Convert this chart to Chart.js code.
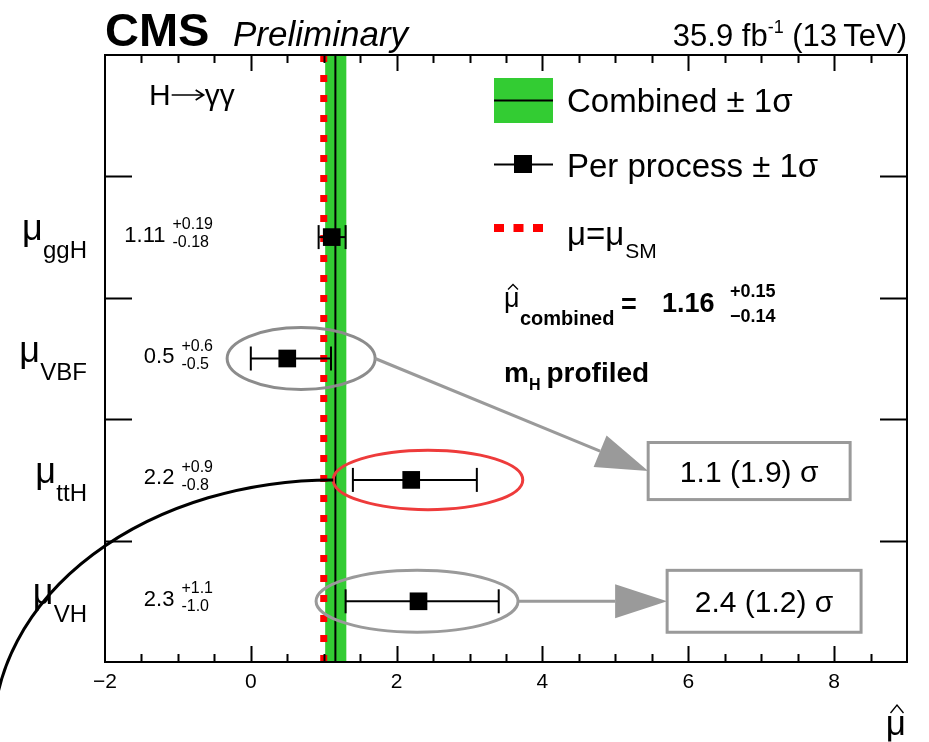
<!DOCTYPE html>
<html>
<head>
<meta charset="utf-8">
<script src="https://cdn.jsdelivr.net/npm/chart.js@4.4.1/dist/chart.umd.min.js"></script>
<style>
  html, body { margin: 0; padding: 0; background: #fff; }
  canvas { display: block; }
</style>
</head>
<body>
<canvas id="chart" width="929" height="742"></canvas>
<script>
// Signal strength per production process, H -> gamma gamma
const processes = ['ggH', 'VBF', 'ttH', 'VH'];
const rowPositions = [3.5, 2.5, 1.5, 0.5];
const muValues = [1.11, 0.5, 2.2, 2.3];
const errUp = [0.19, 0.6, 0.9, 1.1];
const errDown = [0.18, 0.5, 0.8, 1.0];

// Combined fit and SM expectation
const combinedMu = [1.16];
const combinedUp = [0.15];
const combinedDown = [0.14];
const smMu = [1.0];

// Axis labels
const xTickLabels = [-2, 0, 2, 4, 6, 8];

// Significance call-outs: observed (expected)
const significanceLabels = ['1.1 (1.9) σ', '2.4 (1.2) σ'];

const FAMILY = '"Liberation Sans", Arial, Helvetica, sans-serif';
const f = (size, weight = 'normal', style = 'normal') => `${style} ${weight} ${size}px ${FAMILY}`;

function text(ctx, s, x, y, font, align = 'left', color = '#000') {
  ctx.font = font;
  ctx.fillStyle = color;
  ctx.textAlign = align;
  ctx.textBaseline = 'alphabetic';
  ctx.fillText(s, x, y);
  return ctx.measureText(s).width;
}
function width(ctx, s, font) { ctx.font = font; return ctx.measureText(s).width; }
function fmt(v) { return v.toFixed(Math.round(v * 100) % 10 ? 2 : 1); }
function hat(ctx, cx, cy, w, h) {
  ctx.save();
  ctx.strokeStyle = '#000';
  ctx.lineWidth = 1.3;
  ctx.beginPath();
  ctx.moveTo(cx - w / 2, cy + h / 2);
  ctx.lineTo(cx, cy - h / 2);
  ctx.lineTo(cx + w / 2, cy + h / 2);
  ctx.stroke();
  ctx.restore();
}

// Highlight annotations, in data units
const ellipses = [
  { x: 0.69, y: 2.5, rx: 1.015, ry: 0.255, color: '#8c8c8c' },
  { x: 2.43, y: 1.5, rx: 1.30, ry: 0.245, color: '#ee3b3b' },
  { x: 2.28, y: 0.5, rx: 1.385, ry: 0.255, color: '#9a9a9a' }
];
const boxes = [
  { x0: 5.45, x1: 8.22, y: 1.573, h: 0.235, label: significanceLabels[0], from: 0 },
  { x0: 5.71, x1: 8.37, y: 0.5, h: 0.255, label: significanceLabels[1], from: 2 }
];
// quarter-ellipse link ending at the ttH highlight (radii in data units)
const link = { rx: 4.66, ry: 2.1 };

const bandPlugin = {
  id: 'band',
  beforeDatasetsDraw(chart) {
    const { ctx, chartArea: a, scales: { x } } = chart;
    const l = x.getPixelForValue(combinedMu[0] - combinedDown[0]);
    const r = x.getPixelForValue(combinedMu[0] + combinedUp[0]);
    ctx.save();
    ctx.fillStyle = '#33cc33';
    ctx.fillRect(l, a.top, r - l, a.bottom - a.top);
    ctx.restore();
  }
};

const decorPlugin = {
  id: 'decor',
  afterDatasetsDraw(chart) {
    const { ctx, scales: { x, y } } = chart;
    const ux = x.getPixelForValue(1) - x.getPixelForValue(0);
    const uy = y.getPixelForValue(0) - y.getPixelForValue(1);
    ctx.save();
    // ellipses
    ellipses.forEach(e => {
      ctx.beginPath();
      ctx.ellipse(x.getPixelForValue(e.x), y.getPixelForValue(e.y), e.rx * ux, e.ry * uy, 0, 0, Math.PI * 2);
      ctx.lineWidth = 3;
      ctx.strokeStyle = e.color;
      ctx.stroke();
    });
    // arrows and boxes
    boxes.forEach(b => {
      const e = ellipses[b.from];
      const sx = x.getPixelForValue(e.x + e.rx), sy = y.getPixelForValue(e.y);
      const tx = x.getPixelForValue(b.x0), ty = y.getPixelForValue(b.y);
      const ang = Math.atan2(ty - sy, tx - sx);
      const headL = 52, headW = 17;
      const bx = tx - Math.cos(ang) * headL, by = ty - Math.sin(ang) * headL;
      ctx.strokeStyle = '#9a9a9a';
      ctx.fillStyle = '#9a9a9a';
      ctx.lineWidth = 3;
      ctx.beginPath();
      ctx.moveTo(sx, sy);
      ctx.lineTo(bx, by);
      ctx.stroke();
      ctx.beginPath();
      ctx.moveTo(tx, ty);
      ctx.lineTo(bx - Math.sin(ang) * headW, by + Math.cos(ang) * headW);
      ctx.lineTo(bx + Math.sin(ang) * headW, by - Math.cos(ang) * headW);
      ctx.closePath();
      ctx.fill();

      const l = x.getPixelForValue(b.x0), r = x.getPixelForValue(b.x1);
      const t = y.getPixelForValue(b.y + b.h), btm = y.getPixelForValue(b.y - b.h);
      ctx.fillStyle = '#fff';
      ctx.fillRect(l, t, r - l, btm - t);
      ctx.lineWidth = 3;
      ctx.strokeStyle = '#9a9a9a';
      ctx.strokeRect(l, t, r - l, btm - t);
      text(ctx, b.label, (l + r) / 2, (t + btm) / 2 + 11, f(30), 'center');
    });
    ctx.restore();
  },
  afterDraw(chart) {
    const { ctx, chartArea: a, scales: { x, y } } = chart;
    const ux = x.getPixelForValue(1) - x.getPixelForValue(0);
    const uy = y.getPixelForValue(0) - y.getPixelForValue(1);
    ctx.save();

    // frame
    ctx.strokeStyle = '#000';
    ctx.lineWidth = 2;
    ctx.strokeRect(a.left, a.top, a.right - a.left, a.bottom - a.top);

    // x ticks (bottom and top)
    ctx.lineWidth = 2;
    x.ticks.forEach(t => {
      const v = t.value;
      if (v <= x.min || v >= x.max) return;
      const major = Math.abs(v / 2 - Math.round(v / 2)) < 1e-6;
      const len = major ? 16 : 8;
      const p = Math.round(x.getPixelForValue(v)) + 0.5;
      ctx.beginPath();
      ctx.moveTo(p, a.bottom); ctx.lineTo(p, a.bottom - len);
      ctx.moveTo(p, a.top); ctx.lineTo(p, a.top + len);
      ctx.stroke();
    });
    // y ticks (left and right)
    y.ticks.forEach(t => {
      const v = t.value;
      if (v <= y.min || v >= y.max) return;
      const p = Math.round(y.getPixelForValue(v)) + 0.5;
      ctx.beginPath();
      ctx.moveTo(a.left, p); ctx.lineTo(a.left + 27, p);
      ctx.moveTo(a.right, p); ctx.lineTo(a.right - 27, p);
      ctx.stroke();
    });

    // black curve joining the ttH highlight
    const e = ellipses[1];
    const ex = x.getPixelForValue(e.x - e.rx), ey = y.getPixelForValue(e.y);
    const crx = link.rx * ux, cry = link.ry * uy;
    ctx.beginPath();
    ctx.ellipse(ex, ey + cry, crx, cry, 0, Math.PI, Math.PI * 1.5);
    ctx.lineWidth = 3;
    ctx.strokeStyle = '#000';
    ctx.stroke();

    // row labels and fitted values
    processes.forEach((p, i) => {
      const cy = y.getPixelForValue(rowPositions[i]);
      const subW = width(ctx, p, f(24));
      const subL = 87 - subW;
      text(ctx, p, subL, cy + 21, f(24));
      text(ctx, 'μ', subL - 21, cy + 3, f(36));

      const up = '+' + fmt(errUp[i]);
      const dn = '-' + fmt(errDown[i]);
      const sw = Math.max(width(ctx, up, f(16)), width(ctx, dn, f(16)));
      const sl = 213 - sw;
      text(ctx, up, sl, cy - 8, f(16));
      text(ctx, dn, sl, cy + 10, f(16));
      text(ctx, String(muValues[i]), sl - 7, cy + 4.5, f(22), 'right');
    });

    // header
    text(ctx, 'CMS', 105, 46, f(47, 'bold'));
    text(ctx, 'Preliminary', 233, 46, f(35, 'normal', 'italic'));
    const l1 = '35.9 fb', l2 = '-1', l3 = ' (13\u2009TeV)';
    const w1 = width(ctx, l1, f(31)), w2 = width(ctx, l2, f(18)), w3 = width(ctx, l3, f(31));
    let lx = a.right - (w1 + w2 + w3);
    text(ctx, l1, lx, 46, f(31)); lx += w1;
    text(ctx, l2, lx, 33, f(18)); lx += w2;
    text(ctx, l3, lx, 46, f(31));

    // decay channel: H, long arrow, gamma gamma
    const hw0 = text(ctx, 'H', 149, 105, f(30));
    const ax0 = 149 + hw0 + 1, ax1 = ax0 + 32;
    ctx.strokeStyle = '#000';
    ctx.lineWidth = 1.6;
    ctx.beginPath();
    ctx.moveTo(ax0, 95); ctx.lineTo(ax1, 95);
    ctx.moveTo(ax1 - 8, 90); ctx.lineTo(ax1, 95); ctx.lineTo(ax1 - 8, 100);
    ctx.stroke();
    text(ctx, 'γγ', ax1 + 1, 105, f(30));

    // legend
    ctx.fillStyle = '#33cc33';
    ctx.fillRect(494, 78, 59, 45);
    ctx.strokeStyle = '#000';
    ctx.lineWidth = 2;
    ctx.beginPath(); ctx.moveTo(494, 100.5); ctx.lineTo(553, 100.5); ctx.stroke();
    text(ctx, 'Combined ± 1σ', 567, 112, f(33));

    ctx.beginPath(); ctx.moveTo(494, 164.5); ctx.lineTo(553, 164.5); ctx.stroke();
    ctx.fillStyle = '#000';
    ctx.fillRect(514, 155, 18, 18);
    text(ctx, 'Per process ± 1σ', 567, 177, f(33));

    ctx.fillStyle = '#ff0000';
    [494, 513.5, 533].forEach(dx => ctx.fillRect(dx, 224, 10, 8));
    let mx = 567;
    mx += text(ctx, 'μ=μ', mx, 245, f(33));
    text(ctx, 'SM', mx + 1, 258, f(21));

    text(ctx, 'μ', 504, 307, f(27));
    hat(ctx, 513, 287, 10, 5);
    text(ctx, 'combined', 520, 325, f(20, 'bold'));
    text(ctx, '=', 621, 313, f(27, 'bold'));
    text(ctx, fmt(combinedMu[0]), 662, 312, f(27, 'bold'));
    text(ctx, '+' + fmt(combinedUp[0]), 730, 297, f(18, 'bold'));
    text(ctx, '\u2212' + fmt(combinedDown[0]), 730, 322, f(18, 'bold'));

    const mw = text(ctx, 'm', 504, 382, f(28, 'bold'));
    const hw = text(ctx, 'H', 504 + mw, 390, f(16, 'bold'));
    text(ctx, 'profiled', 504 + mw + hw + 6, 382, f(28, 'bold'));

    // x axis title
    text(ctx, 'μ', a.right - 1, 735, f(35), 'right');
    hat(ctx, a.right - 10, 709, 13, 8);

    ctx.restore();
  }
};

const errorBarSets = processes.map((p, i) => ({
  label: p,
  data: [
    { x: muValues[i] - errDown[i], y: rowPositions[i] },
    { x: muValues[i] + errUp[i], y: rowPositions[i] }
  ],
  showLine: true,
  borderColor: '#000',
  borderWidth: 2,
  pointStyle: 'line',
  pointRotation: 90,
  pointRadius: 12,
  pointBorderWidth: 2,
  pointBorderColor: '#000',
  order: 1
}));

new Chart(document.getElementById('chart'), {
  type: 'scatter',
  data: {
    datasets: [
      {
        label: 'Per process',
        data: processes.map((p, i) => ({ x: muValues[i], y: rowPositions[i] })),
        pointStyle: 'rect',
        pointRadius: 12.5,
        pointBackgroundColor: '#000',
        pointBorderWidth: 0,
        order: 0
      },
      ...errorBarSets,
      {
        label: 'Combined',
        data: [{ x: combinedMu[0], y: 5 }, { x: combinedMu[0], y: 0 }],
        showLine: true,
        borderColor: '#000',
        borderWidth: 2,
        pointRadius: 0,
        order: 2
      },
      {
        label: 'SM',
        data: [{ x: smMu[0], y: 5 }, { x: smMu[0], y: 0 }],
        showLine: true,
        borderColor: '#ff0000',
        borderWidth: 7,
        borderDash: [7, 13],
        borderCapStyle: 'butt',
        pointRadius: 0,
        order: 3
      }
    ]
  },
  options: {
    responsive: false,
    animation: false,
    events: [],
    layout: { padding: { top: 55, right: 22, bottom: 0, left: 0 } },
    plugins: { legend: { display: false }, tooltip: { enabled: false } },
    scales: {
      x: {
        type: 'linear',
        min: -2,
        max: 9,
        grid: { display: false },
        border: { display: false },
        afterFit(s) { s.height = 80; },
        ticks: {
          stepSize: 0.5,
          autoSkip: false,
          maxRotation: 0,
          padding: 0,
          color: '#000',
          font: { family: FAMILY, size: 21 },
          callback: v => xTickLabels.includes(v) ? (v < 0 ? '\u2212' + Math.abs(v) : String(v)) : ''
        }
      },
      y: {
        type: 'linear',
        min: 0,
        max: 5,
        grid: { display: false },
        border: { display: false },
        afterFit(s) { s.width = 105; },
        ticks: { stepSize: 1, display: false }
      }
    }
  },
  plugins: [bandPlugin, decorPlugin]
});
</script>
</body>
</html>
